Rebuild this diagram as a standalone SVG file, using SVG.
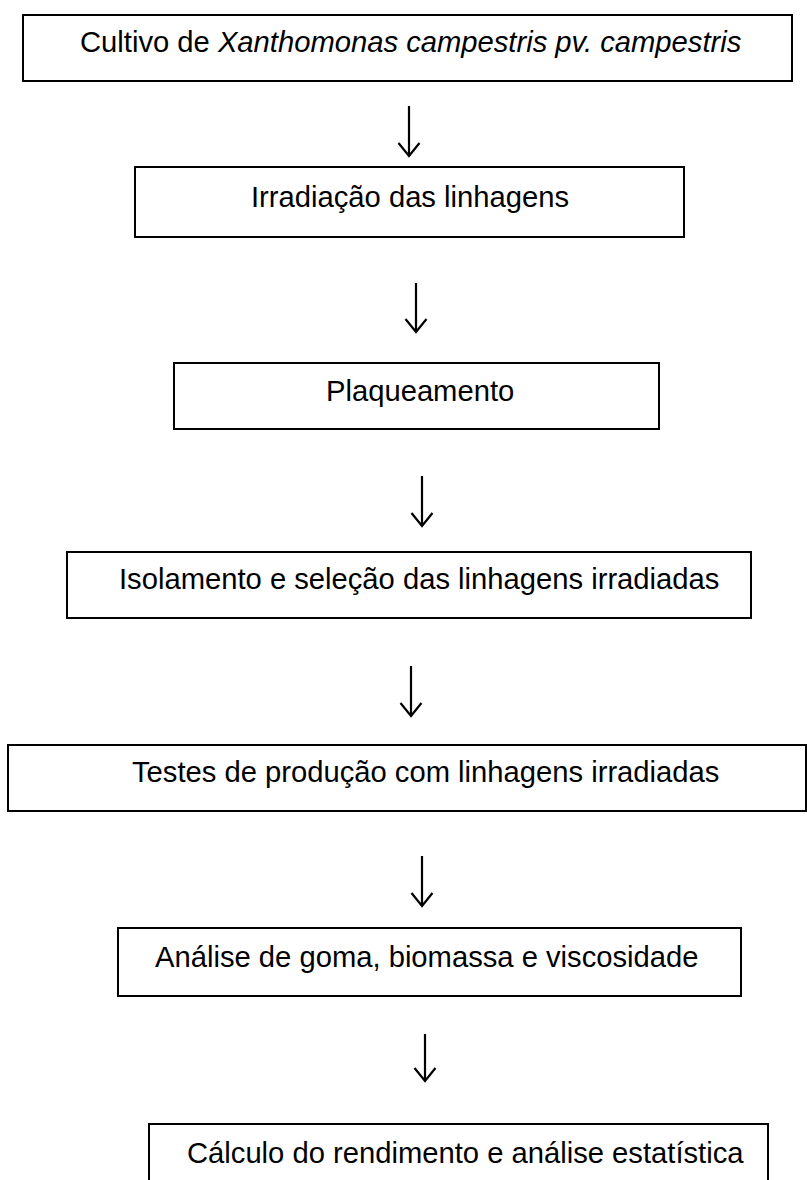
<svg xmlns="http://www.w3.org/2000/svg" width="807" height="1180" viewBox="0 0 807 1180">
<style>
.box{fill:#fff;stroke:#000;stroke-width:2}
.lbl{font-family:"Liberation Sans",Arial,sans-serif;font-size:29.2px;fill:#000}
.arr{fill:none;stroke:#000;stroke-width:2.2}
</style>
<rect width="807" height="1180" fill="#fff"/>
<g id="n1"><rect class="box" x="23" y="15" width="769" height="66"/><text class="lbl" x="80" y="52">Cultivo de <tspan font-style="italic">Xanthomonas campestris pv. campestris</tspan></text></g>
<g id="n2"><rect class="box" x="135" y="167" width="549" height="70"/><text class="lbl" x="251" y="207">Irradiação das linhagens</text></g>
<g id="n3"><rect class="box" x="174" y="363" width="485" height="66"/><text class="lbl" x="326" y="401">Plaqueamento</text></g>
<g id="n4"><rect class="box" x="67" y="552" width="684" height="66"/><text class="lbl" x="119" y="589">Isolamento e seleção das linhagens irradiadas</text></g>
<g id="n5"><rect class="box" x="8" y="745" width="798" height="66"/><text class="lbl" x="132" y="782">Testes de produção com linhagens irradiadas</text></g>
<g id="n6"><rect class="box" x="118" y="928" width="623" height="68"/><text class="lbl" x="155" y="967">Análise de goma, biomassa e viscosidade</text></g>
<g id="n7"><rect class="box" x="149" y="1124" width="619" height="70"/><text class="lbl" x="187" y="1163">Cálculo do rendimento e análise estatística</text></g>
<g id="connectors">
<path class="arr" d="M409 106V156M398.5 143L409 156L419.5 143"/>
<path class="arr" d="M416 283V332M405.5 319L416 332L426.5 319"/>
<path class="arr" d="M422 476V526M411.5 513L422 526L432.5 513"/>
<path class="arr" d="M411 666V716M400.5 703L411 716L421.5 703"/>
<path class="arr" d="M422 856V906M411.5 893L422 906L432.5 893"/>
<path class="arr" d="M425 1034V1081M414.5 1068L425 1081L435.5 1068"/>
</g>
</svg>
